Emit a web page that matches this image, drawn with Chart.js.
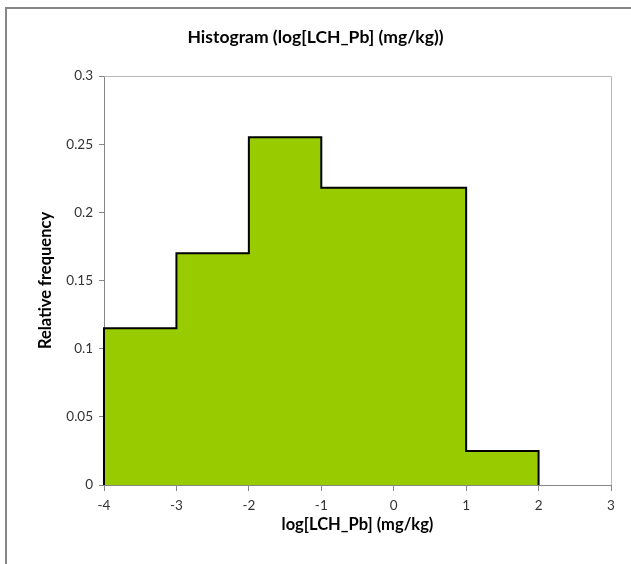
<!DOCTYPE html>
<html>
<head>
<meta charset="utf-8">
<script src="https://cdn.jsdelivr.net/npm/chart.js@4/dist/chart.umd.min.js"></script>
<style>
  html, body { margin: 0; padding: 0; background: #fff; }
  #wrap { width: 631px; height: 564px; position: relative; }
</style>
</head>
<body>
<div id="wrap"><canvas id="histChart" width="631" height="564"></canvas></div>
<script>
const chartTitle = 'Histogram (log[LCH_Pb] (mg/kg))';
const xTitle = 'log[LCH_Pb] (mg/kg)';
const yTitle = 'Relative frequency';

// bin edges and relative frequency of each bin
const binEdges = [-4, -3, -2, -1, 0, 1, 2];
const relFreq = [0.115, 0.17, 0.255, 0.218, 0.218, 0.025];

const xMin = -4, xMax = 3, xStep = 1;
const yMin = 0, yMax = 0.3, yStep = 0.05;

// step outline: start at the base of the first edge, end at base of last edge
const stepPoints = [{ x: binEdges[0], y: 0 }];
relFreq.forEach((f, i) => stepPoints.push({ x: binEdges[i], y: f }));
stepPoints.push({ x: binEdges[binEdges.length - 1], y: 0 });

const FONT = 'Lato, "Open Sans", sans-serif';

// plot area border (top + right) and outer frame
const frames = {
  id: 'frames',
  beforeDatasetsDraw(chart) {
    const { ctx, chartArea: a } = chart;
    ctx.save();
    ctx.strokeStyle = '#b8b8b8';
    ctx.lineWidth = 1;
    ctx.beginPath();
    ctx.moveTo(a.left, a.top + 0.5);
    ctx.lineTo(a.right + 0.5, a.top + 0.5);
    ctx.lineTo(a.right + 0.5, a.bottom);
    ctx.stroke();
    ctx.restore();
  },
  afterDraw(chart) {
    const ctx = chart.ctx;
    ctx.save();
    ctx.strokeStyle = '#878787';
    ctx.lineWidth = 2;
    ctx.beginPath();
    ctx.moveTo(6, 564);
    ctx.lineTo(6, 8);
    ctx.lineTo(631, 8);
    ctx.stroke();
    ctx.restore();
  }
};

new Chart(document.getElementById('histChart'), {
  type: 'line',
  data: {
    datasets: [{
      data: stepPoints,
      stepped: 'before',
      fill: 'origin',
      backgroundColor: '#99cc00',
      borderColor: '#000000',
      borderWidth: 2,
      pointRadius: 0,
      tension: 0,
      clip: 6
    }]
  },
  options: {
    responsive: false,
    animation: false,
    layout: { padding: 0 },
    plugins: {
      legend: { display: false },
      tooltip: { enabled: false },
      title: {
        display: true,
        text: chartTitle,
        color: '#000',
        font: { family: FONT, size: 17.5, weight: 'bold' },
        padding: { top: 26.5, bottom: 28.5 }
      }
    },
    scales: {
      x: {
        type: 'linear',
        min: xMin,
        max: xMax,
        grid: { display: true, drawOnChartArea: false, tickLength: 6, color: '#868686' },
        border: { color: '#868686', width: 1 },
        ticks: {
          stepSize: xStep,
          color: '#333',
          font: { family: FONT, size: 13.5 },
          padding: 7,
          maxRotation: 0
        },
        title: {
          display: true,
          text: xTitle,
          color: '#000',
          font: { family: FONT, size: 16.5, weight: 'bold' },
          padding: { top: 0, bottom: 29 }
        },
        afterFit(scale) { scale.height = 79; }
      },
      y: {
        min: yMin,
        max: yMax,
        grid: { display: true, drawOnChartArea: false, tickLength: 5, color: '#868686' },
        border: { color: '#868686', width: 1 },
        ticks: {
          stepSize: yStep,
          color: '#333',
          font: { family: FONT, size: 13.5 },
          padding: 6,
          callback: v => String(+v.toFixed(2))
        },
        title: {
          display: true,
          text: yTitle,
          color: '#000',
          font: { family: FONT, size: 16.5, weight: 'bold' },
          padding: { top: 36, bottom: 0 }
        },
        afterFit(scale) { scale.width = 104; }
      },
      // empty right-hand margin so the title stays centred on the whole canvas
      yRight: {
        position: 'right',
        display: true,
        min: yMin,
        max: yMax,
        grid: { display: false },
        border: { display: false },
        ticks: { display: false },
        afterFit(scale) { scale.width = 20; }
      }
    }
  },
  plugins: [frames]
});
</script>
</body>
</html>
